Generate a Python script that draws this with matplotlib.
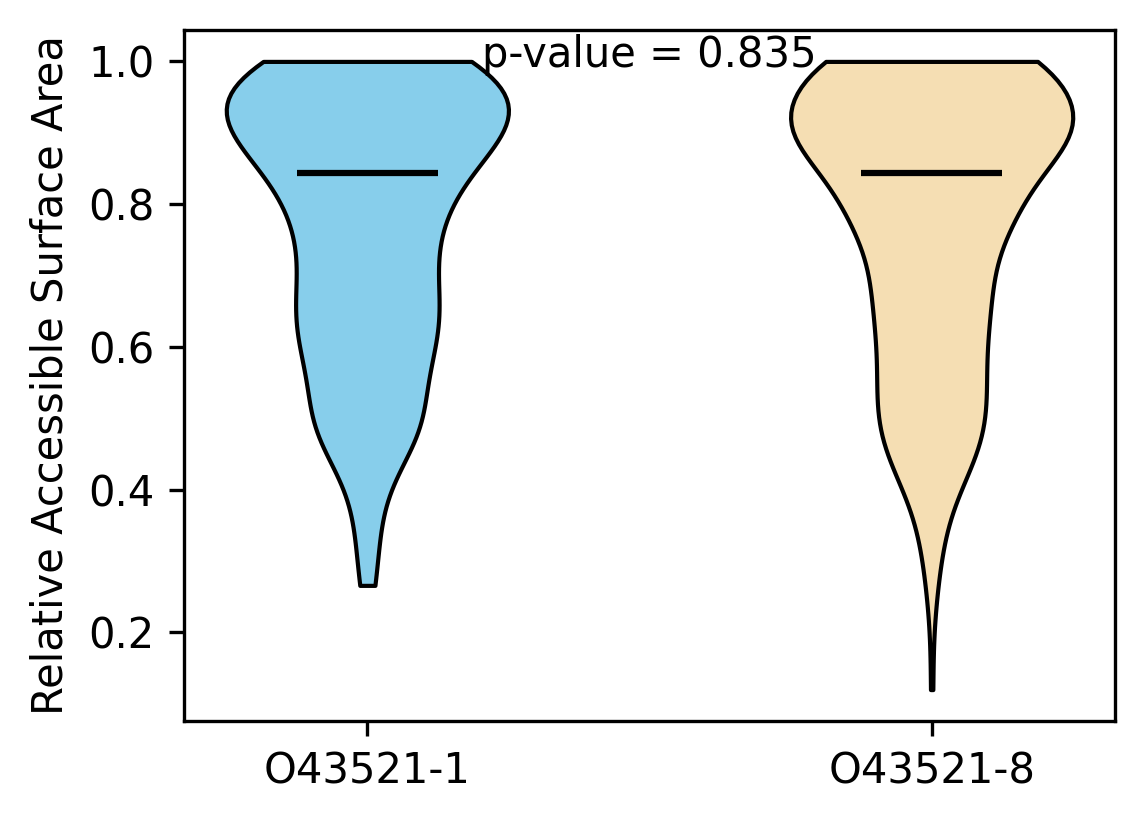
import numpy as np
import matplotlib
matplotlib.use('Agg')
import matplotlib.pyplot as plt

# 그룹 이름과 색
isoforms = ['O43521-1', 'O43521-8']
colors = ['skyblue', 'wheat']
p_value = 0.835

# RSA 값(구간)과 잔기 개수 - 그림의 바이올린 모양에서 추정
rsa_1 = [0.266, 0.28, 0.30, 0.32, 0.34, 0.36, 0.38, 0.40, 0.42, 0.44, 0.46, 0.48,
         0.50, 0.52, 0.54, 0.56, 0.58, 0.60, 0.62, 0.64, 0.66, 0.68, 0.70, 0.72,
         0.74, 0.76, 0.78, 0.80, 0.82, 0.843, 0.86, 0.88, 0.90, 0.92, 0.94, 0.96,
         0.98, 1.00]
count_1 = [3, 0, 3, 0, 2, 2, 1, 4, 1, 2, 7, 13,
           12, 7, 2, 10, 5, 14, 10, 12, 7, 14, 6, 11,
           5, 12, 12, 9, 7, 26, 6, 12, 23, 32, 20, 16,
           14, 45]

rsa_8 = [0.12, 0.14, 0.16, 0.18, 0.20, 0.22, 0.24, 0.26, 0.28, 0.30, 0.32, 0.34,
         0.36, 0.38, 0.40, 0.42, 0.44, 0.46, 0.48, 0.50, 0.52, 0.54, 0.56, 0.58,
         0.60, 0.62, 0.64, 0.66, 0.68, 0.70, 0.72, 0.74, 0.76, 0.78, 0.80, 0.82,
         0.843, 0.86, 0.88, 0.90, 0.92, 0.94, 0.96, 0.98, 1.00]
count_8 = [1, 0, 0, 0, 0, 0, 1, 1, 0, 2, 2, 1,
           1, 5, 0, 6, 7, 8, 10, 6, 8, 11, 3, 10,
           7, 7, 6, 11, 11, 8, 8, 1, 11, 18, 19, 8,
           11, 7, 20, 38, 32, 15, 3, 7, 66]

data = [np.repeat(rsa_1, count_1), np.repeat(rsa_8, count_8)]

fig, ax = plt.subplots(figsize=(1144 / 300, 824 / 300), dpi=300)
fig.subplots_adjust(left=0.1608, right=0.9747, top=0.9636, bottom=0.125)

parts = ax.violinplot(data, showmedians=True, showextrema=False)
for pc, c in zip(parts['bodies'], colors):
    pc.set_facecolor(c)
    pc.set_edgecolor('black')
    pc.set_alpha(1)
parts['cmedians'].set_color('black')

ax.set_xticks([1, 2])
ax.set_xticklabels(isoforms)
ax.set_ylabel('Relative Accessible Surface Area')
ax.text(1.5, 0.98, f'p-value = {p_value}', ha='center', va='bottom')

fig.savefig('out.png', dpi=300)
